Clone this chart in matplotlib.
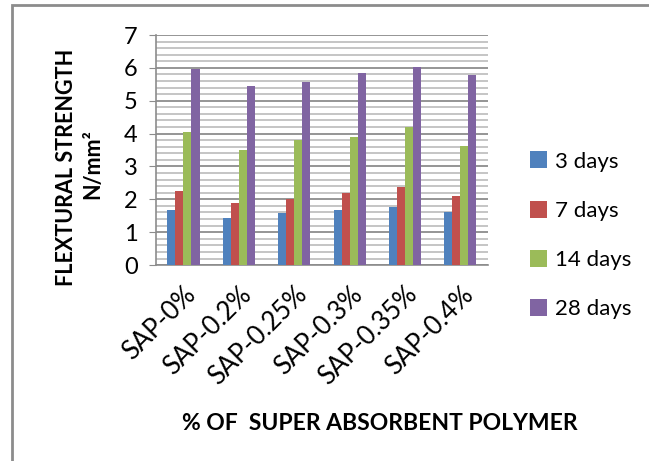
import matplotlib.pyplot as plt
import numpy as np
from matplotlib.patches import Rectangle
from matplotlib.ticker import MultipleLocator

plt.rcParams['font.family'] = ['Lato', 'DejaVu Sans']

categories = ["SAP-0%", "SAP-0.2%", "SAP-0.25%", "SAP-0.3%", "SAP-0.35%", "SAP-0.4%"]
series_names = ["3 days", "7 days", "14 days", "28 days"]
days_3 = [1.69, 1.44, 1.59, 1.69, 1.78, 1.61]
days_7 = [2.24, 1.89, 2.02, 2.19, 2.37, 2.11]
days_14 = [4.05, 3.49, 3.82, 3.91, 4.19, 3.61]
days_28 = [5.97, 5.44, 5.58, 5.84, 6.03, 5.79]

colors = ["#4F81BD", "#C0504D", "#9BBB59", "#8064A2"]

fig = plt.figure(figsize=(6.49, 4.61), dpi=100)
ax = fig.add_axes([0.240, 0.425, 0.512, 0.499])

x = np.arange(len(categories))
width = 0.145
for i, (name, vals) in enumerate(zip(series_names, [days_3, days_7, days_14, days_28])):
    ax.bar(x + (i - 1.5) * width, vals, width, color=colors[i], label=name, zorder=3)

ax.set_xlim(-0.5, len(categories) - 0.5)
ax.set_ylim(0, 7)
ax.yaxis.set_major_locator(MultipleLocator(1))
ax.yaxis.set_minor_locator(MultipleLocator(0.2))
ax.grid(axis='y', which='major', color='#8c8c8c', linewidth=1.3, zorder=0)
ax.grid(axis='y', which='minor', color='#c0c0c0', linewidth=1.3, zorder=0)

for side in ['top', 'right']:
    ax.spines[side].set_visible(False)
for side in ['left', 'bottom']:
    ax.spines[side].set_color('#8c8c8c')
    ax.spines[side].set_linewidth(1.2)

ax.tick_params(axis='y', which='major', labelsize=17, length=5, color='#8c8c8c', pad=8)
ax.tick_params(axis='y', which='minor', length=0)
ax.tick_params(axis='x', length=0, pad=12)
ax.set_xticks(x)
ax.set_xticklabels(categories, rotation=45, ha='right', rotation_mode='anchor', fontsize=18.5)

fig.text(0.102, 0.638, "FLEXTURAL STRENGTH", rotation=90, ha='center', va='center',
         fontsize=15.5, fontweight='bold')
fig.text(0.143, 0.645, "N/mm²", rotation=90, ha='center', va='center',
         fontsize=15.5, fontweight='bold')
fig.text(0.585, 0.082, "% OF  SUPER ABSORBENT POLYMER", ha='center', va='center',
         fontsize=16.5, fontweight='bold')

ax.legend(loc='center left', bbox_to_anchor=(1.065, 0.13), frameon=False, fontsize=16,
          handlelength=0.8, handleheight=0.8, handletextpad=0.35, labelspacing=1.3)

# outer chart border
fig.patches.append(Rectangle((12 / 649, -0.1), 1.2, (461 - 5) / 461 + 0.1,
                             transform=fig.transFigure, fill=False,
                             edgecolor='#8c8c8c', linewidth=2))

fig.savefig("out.png", dpi=100)
